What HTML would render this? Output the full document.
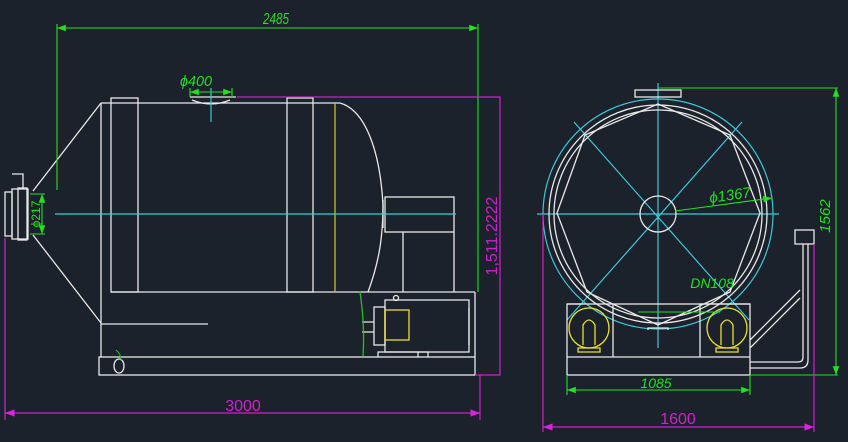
<!DOCTYPE html>
<html><head><meta charset="utf-8"><style>
html,body{margin:0;padding:0;background:#1c222b;}
svg{display:block}
text{font-family:"Liberation Sans",sans-serif;}
</style></head><body>
<svg width="848" height="442" viewBox="0 0 848 442" xmlns="http://www.w3.org/2000/svg">
<rect width="848" height="442" fill="#1c222b"/>
<defs>
<marker id="ag" markerWidth="8" markerHeight="6" refX="8" refY="3" orient="auto-start-reverse"><path d="M0,0L8,3L0,6z" fill="#22e022"/></marker>
<marker id="am" markerWidth="8" markerHeight="6" refX="8" refY="3" orient="auto-start-reverse"><path d="M0,0L8,3L0,6z" fill="#e020e0"/></marker>
</defs>
<g fill="none" stroke="#e8e8e8" stroke-width="1.3">
<rect x="5" y="192" width="7" height="44"/>
<rect x="12" y="189" width="16" height="50"/>
<rect x="18" y="188" width="9" height="52"/>
<path d="M12,174H23V188"/>
<path d="M33,191L101,103M33,235L101,323"/>
<path d="M101,103V357M101,103H340"/>
<path d="M340,103C365,110 380,150 383,205C383,240 378,265 368,292"/>
<rect x="111" y="98" width="27" height="194"/>
<rect x="287" y="98" width="26" height="194"/>
<path d="M111,292H475M101,324H208"/>
<rect x="385" y="197" width="69" height="35"/>
<path d="M403,232V292M454,232V292M383,200V228"/>
<rect x="99" y="357" width="376" height="18"/>
<ellipse cx="119" cy="366" rx="5" ry="7"/>
<path d="M475,292V357"/>
<rect x="385" y="300" width="84" height="52"/>
<rect x="374" y="307" width="11" height="38"/>
<path d="M362,322H374M362,332H374M378,357V352H428V357M418,352V357M469,308V345"/>
<circle cx="396" cy="298" r="2.5"/>
<path d="M190,97H236M192,100Q211,108 230,100"/>
</g>
<path d="M335,103V292" stroke="#c8b830" stroke-width="1.3"/>
<rect x="385" y="310" width="24" height="30" fill="none" stroke="#e8e030" stroke-width="1.3"/>
<path d="M360,292Q365,325 363,356" fill="none" stroke="#22c022" stroke-width="1.3"/>
<path d="M116,350Q121,354 121,360" fill="none" stroke="#22c022"/>
<path d="M55,214H456M211,88V122" stroke="#3cc8d8" stroke-width="1.2"/>
<g stroke="#22e022" stroke-width="1.1" fill="none">
<path d="M57,28H478" marker-start="url(#ag)" marker-end="url(#ag)"/>
<path d="M57,24V190M478,24V292"/>
<path d="M190,92H232" marker-start="url(#ag)" marker-end="url(#ag)"/>
<path d="M190,88V97M232,88V97"/>
<path d="M42,194V234" marker-start="url(#ag)" marker-end="url(#ag)"/>
<path d="M30,194H45M30,234H45"/>
</g>
<text x="263" y="24" fill="#22e022" font-size="16" font-style="italic" textLength="26" lengthAdjust="spacingAndGlyphs">2485</text>
<text x="180" y="86" fill="#22e022" font-size="15" font-style="italic" textLength="32" lengthAdjust="spacingAndGlyphs">ϕ400</text>
<text transform="translate(40,214) rotate(-90)" fill="#22e022" font-size="12" text-anchor="middle">ϕ217</text>
<g stroke="#d020d0" stroke-width="1.2" fill="none">
<path d="M237,97H500V375H475M5,238V420M480,375V420"/>
<path d="M5,413H480" marker-start="url(#am)" marker-end="url(#am)"/>
</g>
<text transform="translate(497,236) rotate(-90)" fill="#d020d0" font-size="16" text-anchor="middle">1,511.2222</text>
<text x="243" y="411" fill="#d020d0" font-size="16" text-anchor="middle">3000</text>
<g fill="none" stroke="#3cc8d8" stroke-width="1.2">
<circle cx="658" cy="214" r="115"/>
<path d="M537,214H779M658,83V348M574,122L749,320M742,122L567,320"/>
</g>
<g fill="none" stroke="#e8e8e8" stroke-width="1.3">
<circle cx="658" cy="214" r="109"/>
<circle cx="658" cy="214" r="104"/>
<circle cx="658" cy="214" r="18"/>
<path d="M658,104L585,135L557,213L587,292L658,325L730,292L760,213L730,135Z"/>
<rect x="635" y="90" width="46" height="7"/>
<rect x="567" y="304" width="183" height="71"/>
<path d="M567,357H750M567,304L583,304M613,304V357M700,357V304L750,304"/>
<path d="M648,330V328H668V330"/>
<rect x="795" y="230" width="19" height="14"/>
<path d="M803,244V357Q803,362 798,362H750M808,244V360Q808,368 800,368H750"/>
<path d="M750,340L800,290M750,348L800,298"/>
</g>
<g fill="none" stroke="#e8e030" stroke-width="1.3">
<circle cx="589" cy="328" r="20"/>
<circle cx="727" cy="328" r="20"/>
<path d="M583,345V325Q589,315 595,325V345M578,352H600V348H578Z"/>
<path d="M721,345V325Q727,315 733,325V345M716,352H738V348H716Z"/>
</g>
<g stroke="#22e022" stroke-width="1.1" fill="none">
<path d="M675,211L772,198" marker-end="url(#ag)"/>
<path d="M658,88H838M750,375H838"/>
<path d="M836,88V375" marker-start="url(#ag)" marker-end="url(#ag)"/>
<path d="M567,390H750" marker-start="url(#ag)" marker-end="url(#ag)"/>
<path d="M567,375V395M750,375V395"/>
<path d="M638,312H720"/>
</g>
<text transform="translate(710,203) rotate(-8)" fill="#22e022" font-size="15" font-style="italic">ϕ1367</text>
<text transform="translate(830,216) rotate(-90)" fill="#22e022" font-size="15" font-style="italic" text-anchor="middle">1562</text>
<text x="712" y="288" fill="#22e022" font-size="14" font-style="italic" text-anchor="middle">DN108</text>
<text x="656" y="388" fill="#22e022" font-size="14" font-style="italic" text-anchor="middle">1085</text>
<g stroke="#d020d0" stroke-width="1.2" fill="none">
<path d="M543,214V432M814,244V432"/>
<path d="M543,427H814" marker-start="url(#am)" marker-end="url(#am)"/>
</g>
<text x="678" y="424" fill="#d020d0" font-size="16" text-anchor="middle">1600</text>
</svg>
</body></html>
